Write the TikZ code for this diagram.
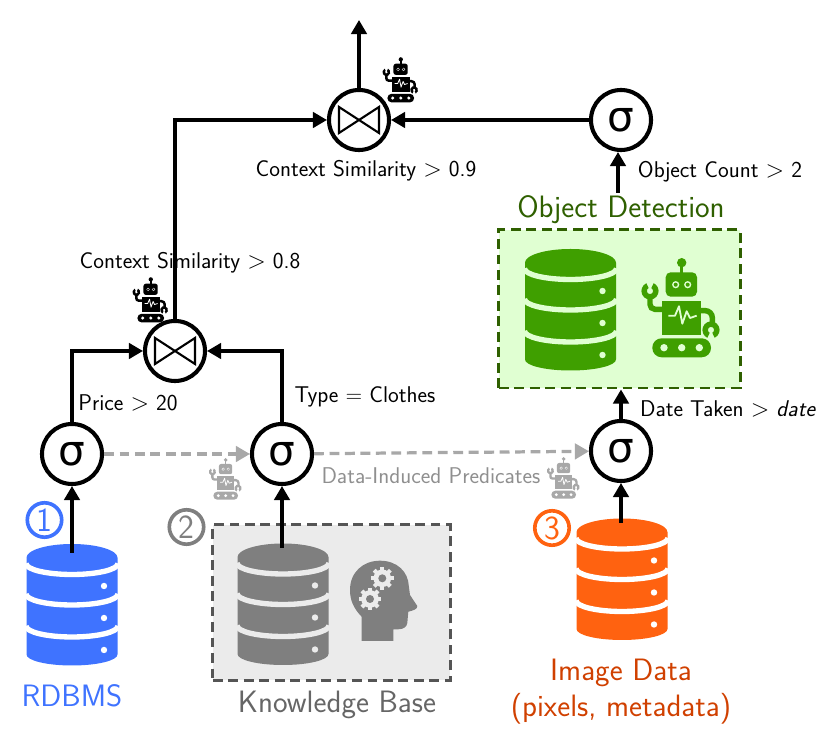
\documentclass[tikz,border=0pt]{standalone}
\usepackage{amsmath}
\usepackage{amssymb}
\usepackage{fontspec}
\usepackage{tikz}
\usetikzlibrary{arrows.meta}

\newfontfamily\sigmafont{DejaVu Sans}

\definecolor{dbblue}{HTML}{3F73FF}
\definecolor{dbgray}{HTML}{7F7F7F}
\definecolor{dbgreen}{HTML}{3F9F00}
\definecolor{dborange}{HTML}{FF6210}
\definecolor{kbfill}{HTML}{EBEBEB}
\definecolor{kbline}{HTML}{555555}
\definecolor{odfill}{HTML}{E0FFD2}
\definecolor{odline}{HTML}{2F6000}
\definecolor{imgtext}{HTML}{D04000}
\definecolor{dataflow}{HTML}{A8A8A8}

\tikzset{
    sigmanode/.style={circle, draw, line width=2.9pt, minimum size=1.5cm, inner sep=0pt, font=\sigmafont\fontsize{30}{30}\selectfont},
    joinnode/.style={sigmanode, path picture={
        \draw[line width=1.5pt, line join=miter]
            ([shift={(-20,13)}]path picture bounding box.center) -- ([shift={(20,-13)}]path picture bounding box.center)
            -- ([shift={(20,13)}]path picture bounding box.center) -- ([shift={(-20,-13)}]path picture bounding box.center) -- cycle;
    }},
    flow/.style={-{Triangle[length=10pt,width=11pt]}, line width=2.3pt},
    induced/.style={flow, dataflow, dash pattern=on 7pt off 4pt},
    smalltext/.style={font=\sffamily\fontsize{16.2}{19}\selectfont},
    bigtext/.style={font=\sffamily\fontsize{22}{25.5}\selectfont, align=center},
    numbered/.style={circle, draw, line width=2.6pt, minimum size=0.86cm, inner sep=0pt, font=\sffamily\fontsize{24}{24}\selectfont},
    pics/dbicon/.style 2 args={code={
        \fill[#1] (-45.5,46.8) arc[start angle=180, end angle=0, x radius=45.5, y radius=13.7]
            -- (45.5,-50) arc[start angle=0, end angle=-180, x radius=45.5, y radius=11] -- cycle;
        \foreach \bandy in {41,10.5,-21.5}
            \draw[#2, line width=3.8pt] (-46,\bandy) arc[start angle=180, end angle=360, x radius=46, y radius=11];
        \foreach \doty in {18.5,-13.5,-45.5}
            \fill[#2] (32,\doty) circle[radius=3.2];
    }},
    pics/robot/.style n args={3}{code={
        \begin{scope}[scale=#1]
            % antenna and head
            \fill[#2] (1.7,45.3) circle[radius=4.7];
            \fill[#2] (0,35) rectangle (3.4,45);
            \fill[#2, rounded corners=#1*3.5pt] (-14.3,11.3) rectangle (17,35.7);
            \foreach \eyex in {-4.3,7.7} {
                \fill[#3] (\eyex,23.3) circle[radius=3.6];
                \fill[#2] (\eyex,23.3) circle[radius=2];
            }
            % body with its trace
            \fill[#2] (-18.3,-27) rectangle (21,7.3);
            \draw[#3, line width=#1*1.3pt, line join=round]
                (-11.7,-7.7) -- (-5,-7.7) -- (-1,1.7) -- (2.3,-15.7) -- (6.7,-3.3) -- (10,-10) -- (16.7,-7.7);
            % arms and wrenches
            \draw[#2, line width=#1*3.9pt, rounded corners=#1*3.5pt] (-18,-1.3) -- (-30,-1.3) -- (-30,12);
            \fill[#2] (-30,17)++(115:8.6) arc[start angle=115, end angle=425, radius=8.6]
                -- ++(245:5.4) arc[start angle=425, end angle=115, radius=3.2] -- cycle;
            \draw[#2, line width=#1*3.9pt, rounded corners=#1*5pt] (20,-2.7) -- (32.3,-2.7) -- (32.3,-17);
            \fill[#2] (31,-22)++(-65:8.6) arc[start angle=-65, end angle=245, radius=8.6]
                -- ++(65:5.4) arc[start angle=245, end angle=-65, radius=3.2] -- cycle;
            % tracks
            \fill[#2, rounded corners=#1*6.6pt] (-27.7,-49.3) rectangle (31,-30.3);
            \foreach \wheelx in {-16,1.7,19.3}
                \fill[#3] (\wheelx,-39.7) circle[radius=3.7];
        \end{scope}
    }},
    pics/headgears/.style 2 args={code={
        \fill[#1] (-21.7,-41) -- (-21.7,-16.7)
            .. controls (-30,-8) and (-33.3,0) .. (-33.3,10)
            .. controls (-33.3,28) and (-20,39.3) .. (-3.3,39.3)
            .. controls (14,39.3) and (25,28) .. (25.5,14)
            -- (26.7,5) -- (34,-6) .. controls (34.5,-9) and (30,-10.5) .. (25,-11.7)
            -- (24,-23) .. controls (23.5,-27) and (20,-29.3) .. (15,-29.3)
            -- (10,-29.3) -- (10,-41) -- cycle;
        \foreach \gearx/\geary in {-1/21.7,-13.3/1} {
            \fill[#2] (\gearx,\geary) circle[radius=8.8];
            \foreach \toothangle in {0,45,...,315}
                \fill[#2, rotate around={\toothangle:(\gearx,\geary)}] (\gearx-2,\geary) rectangle (\gearx+2,\geary+11.4);
            \fill[#1] (\gearx,\geary) circle[radius=4];
        }
    }}
}

\begin{document}
\begin{tikzpicture}[x=0.025cm, y=0.025cm]
    \useasboundingbox (0,0) rectangle (831,742);

    % Boxes behind the icons
    \node[draw=kbline, fill=kbfill, line width=2.1pt, dash pattern=on 7pt off 4pt, minimum width=5.93cm, minimum height=3.88cm, inner sep=0pt] (kbbox) at (331.5,139.5) {};
    \node[draw=odline, fill=odfill, line width=2.1pt, dash pattern=on 7pt off 4pt, minimum width=6.03cm, minimum height=3.95cm, inner sep=0pt] (odbox) at (619.5,433) {};

    % Database icons
    \pic at (72,137.5) {dbicon={dbblue}{white}};
    \pic at (283,138) {dbicon={dbgray}{kbfill}};
    \pic at (622,163) {dbicon={dborange}{white}};
    \pic at (570.5,432.5) {dbicon={dbgreen}{odfill}};

    % Tools inside the boxes
    \pic at (680,434) {robot={1}{dbgreen}{odfill}};
    \pic at (383.3,142) {headgears={dbgray}{kbfill}};

    % Operators
    \node[sigmanode] (sigmaA) at (72,288) {σ};
    \node[sigmanode] (sigmaB) at (282,288) {σ};
    \node[sigmanode] (sigmaC) at (621,291) {σ};
    \node[sigmanode] (sigmaTop) at (621,622) {σ};
    \node[joinnode] (joinL) at (175,391) {};
    \node[joinnode] (joinT) at (359,622) {};

    % Small robots next to operators
    \pic at (400,662) {robot={.455}{black}{white}};
    \pic at (150,442) {robot={.455}{black}{white}};
    \pic at (225,263) {robot={.42}{dataflow}{white}};
    \pic at (563,264) {robot={.42}{dataflow}{white}};

    % Free ends of the connectors
    \coordinate (dbA) at (72,189);
    \coordinate (dbB) at (282,194);
    \coordinate (dbC) at (621,219);
    \coordinate (odTop) at (618,549);
    \coordinate (result) at (359,722);

    % Data flow
    \draw[flow] (dbA) -- (sigmaA);
    \draw[flow] (dbB) -- (sigmaB);
    \draw[flow] (dbC) -- (sigmaC);
    \draw[flow] (sigmaC) -- (sigmaC |- odbox.south);
    \draw[flow] (odTop) -- (odTop |- sigmaTop.south);
    \draw[flow] (sigmaA) |- (joinL);
    \draw[flow] (sigmaB) |- (joinL);
    \draw[flow] (joinL) |- (joinT);
    \draw[flow] (sigmaTop) -- (joinT);
    \draw[flow] (joinT) -- (result);
    \draw[induced] (sigmaA) -- (sigmaB);
    \draw[induced] (sigmaB) -- (sigmaC);

    % Source numbers
    \node[numbered, draw=dbblue, text=dbblue] (numA) at (44.5,222) {1};
    \node[numbered, draw=dbgray, text=dbgray] (numB) at (186.5,215) {2};
    \node[numbered, draw=dborange, text=dborange] (numC) at (552,214) {3};

    % Labels
    \node[smalltext] (simT) at (366,571) {Context Similarity $>$ 0.9};
    \node[smalltext] (count) at (720,570) {Object Count $>$ 2};
    \node[smalltext] (simL) at (190,479) {Context Similarity $>$ 0.8};
    \node[smalltext] (price) at (128,339) {Price $>$ 20};
    \node[smalltext] (type) at (365,345) {Type = Clothes};
    \node[smalltext] (date) at (728,333) {Date Taken $>$ \textit{date}};
    \node[smalltext, text=dataflow!85!black] (induced) at (431,266) {Data-Induced Predicates};
    \node[bigtext, text=odline] (odname) at (621,532.5) {Object Detection};
    \node[bigtext, text=kbline!90!white] (kbname) at (337,37) {Knowledge Base};
    \node[bigtext, text=dbblue] (dbname) at (72,46) {RDBMS};
    \node[bigtext, text=imgtext] (imgname) at (621,50) {Image Data\\(pixels, metadata)};
\end{tikzpicture}
\end{document}
